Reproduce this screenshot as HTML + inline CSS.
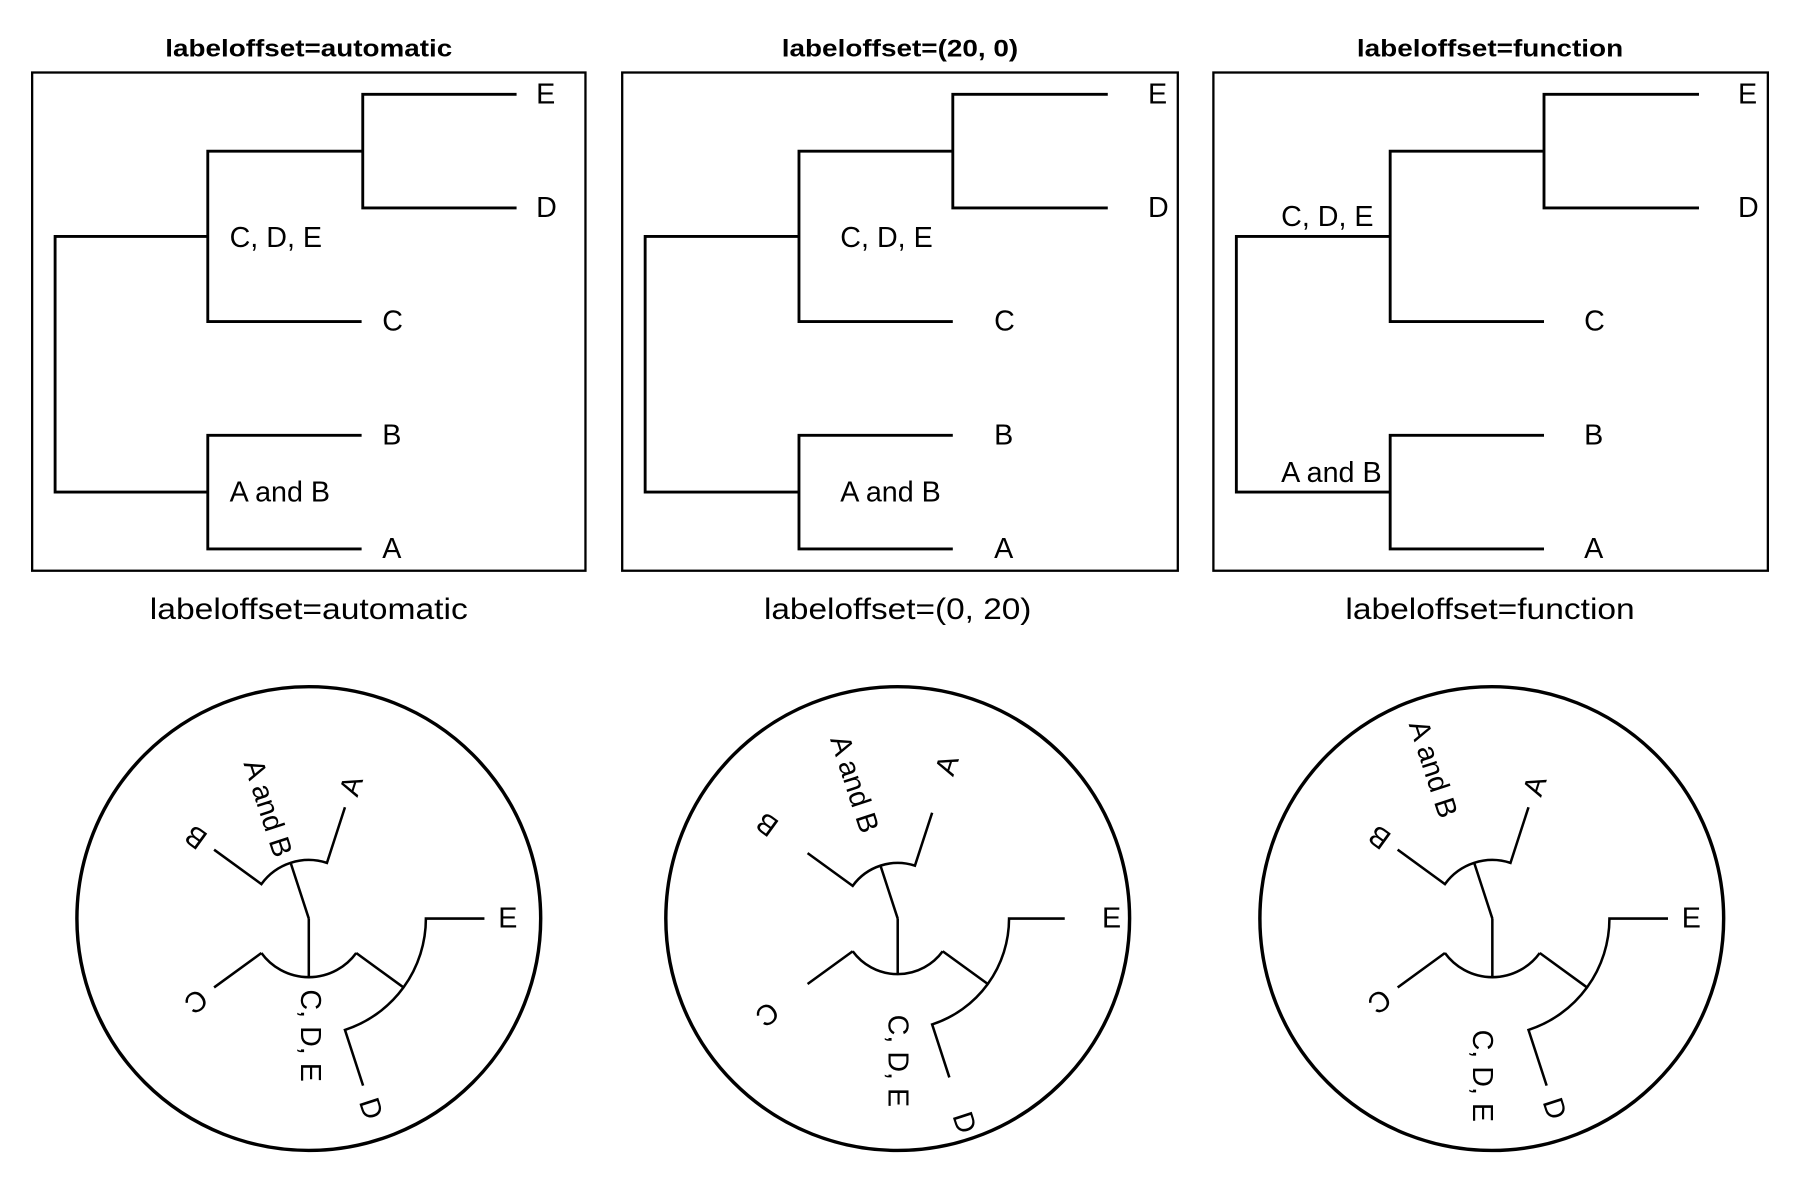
<!DOCTYPE html>
<html><head><meta charset="utf-8"><style>
html,body{margin:0;padding:0;background:#fff;}
svg{display:block;}
text{font-family:"Liberation Sans",sans-serif;fill:#000;}
</style></head><body>
<svg width="1800" height="1200" viewBox="0 0 1568 1045" xmlns="http://www.w3.org/2000/svg">
<rect width="1568" height="1045" fill="#fff"/>
<g font-weight="bold" font-size="21" text-anchor="middle">
<text x="269" y="49" textLength="250" lengthAdjust="spacingAndGlyphs">labeloffset=automatic</text>
<text x="784" y="49" textLength="206" lengthAdjust="spacingAndGlyphs">labeloffset=(20, 0)</text>
<text x="1298" y="49" textLength="232" lengthAdjust="spacingAndGlyphs">labeloffset=function</text>
</g>
<g font-size="26" text-anchor="middle">
<text x="269" y="539" textLength="277" lengthAdjust="spacingAndGlyphs">labeloffset=automatic</text>
<text x="782" y="539" textLength="233" lengthAdjust="spacingAndGlyphs">labeloffset=(0, 20)</text>
<text x="1298" y="539" textLength="252" lengthAdjust="spacingAndGlyphs">labeloffset=function</text>
</g>
<g fill="none" stroke="#000" stroke-width="2">
<rect x="28" y="63" width="482" height="434"/>
<rect x="542" y="63" width="484" height="434"/>
<rect x="1057" y="63" width="483" height="434"/>
</g>
<g fill="none" stroke="#000" stroke-width="2.5">
<path d="M450,82 H316 V181 H450 M316,131.5 H181 V280 H315 M181,205.75 H48 V428.5 H181 M315,379 H181 V478 H315"/>
<path d="M965,82 H830 V181 H965 M830,131.5 H696 V280 H830 M696,205.75 H562 V428.5 H696 M830,379 H696 V478 H830"/>
<path d="M1480,82 H1345 V181 H1480 M1345,131.5 H1211 V280 H1345 M1211,205.75 H1077 V428.5 H1211 M1345,379 H1211 V478 H1345"/>
</g>
<g font-size="25" dominant-baseline="central">
<text x="467" y="82">E</text><text x="467" y="181">D</text><text x="333" y="280">C</text><text x="333" y="379">B</text><text x="333" y="478">A</text>
<text x="200" y="207">C, D, E</text><text x="200" y="429">A and B</text>
<text x="1000" y="82">E</text><text x="1000" y="181">D</text><text x="866" y="280">C</text><text x="866" y="379">B</text><text x="866" y="478">A</text>
<text x="732" y="207">C, D, E</text><text x="732" y="429">A and B</text>
<text x="1514" y="82">E</text><text x="1514" y="181">D</text><text x="1380" y="280">C</text><text x="1380" y="379">B</text><text x="1380" y="478">A</text>
<text x="1116" y="189">C, D, E</text><text x="1116" y="412">A and B</text>
</g>
<g fill="none" stroke="#000" stroke-width="3">
<circle cx="269" cy="800" r="202"/>
<circle cx="782" cy="800" r="202"/>
<circle cx="1299.5" cy="800" r="202"/>
</g>
<g fill="none" stroke="#000" stroke-width="2.2">
<path d="M269,800 L269,851 M269,800 L253.2,751.5
M186.5,740 L227.7,770 A51,51 0 0 1 284.8,751.5 L300.5,703
M186.5,860 L227.7,830 M310.3,830 A51,51 0 0 1 227.7,830 M310.3,830 L351.5,860
M422,800 L371,800 A102,102 0 0 1 300.5,897 L316.3,945.5"/>
<path d="M782,800 L782,848.5 M782,800 L767,753.9
M703.5,743 L742.8,771.5 A48.5,48.5 0 0 1 797,753.9 L812,707.8
M703.5,857 L742.8,828.5 M821.2,828.5 A48.5,48.5 0 0 1 742.8,828.5 M821.2,828.5 L860.5,857
M927.5,800 L879,800 A97,97 0 0 1 812,892.2 L827,938.4"/>
<path d="M1300,800 L1300,851 M1300,800 L1284.2,751.5
M1217.5,740 L1258.7,770 A51,51 0 0 1 1315.8,751.5 L1331.5,703
M1217.5,860 L1258.7,830 M1341.3,830 A51,51 0 0 1 1258.7,830 M1341.3,830 L1382.5,860
M1453,800 L1402,800 A102,102 0 0 1 1331.5,897 L1347.3,945.5"/>
</g>
<g font-size="25" dominant-baseline="central">
<text x="434" y="800">E</text>
<text x="320" y="957" transform="rotate(72 320 957)">D</text>
<text x="177.6" y="866.4" transform="rotate(144 177.6 866.4)">C</text>
<text x="177.6" y="733.6" transform="rotate(216 177.6 733.6)">B</text>
<text x="303.9" y="692.5" transform="rotate(288 303.9 692.5)">A</text>
<text x="233" y="704" text-anchor="middle" transform="rotate(72 233 704)">A and B</text>
<text x="270" y="902" text-anchor="middle" transform="rotate(90 270 902)">C, D, E</text>

<text x="960" y="800">E</text>
<text x="837" y="969.3" transform="rotate(72 837 969.3)">D</text>
<text x="675.2" y="877.6" transform="rotate(144 675.2 877.6)">C</text>
<text x="675.2" y="722.4" transform="rotate(216 675.2 722.4)">B</text>
<text x="822.8" y="674.5" transform="rotate(288 822.8 674.5)">A</text>
<text x="744" y="683" text-anchor="middle" transform="rotate(72 744 683)">A and B</text>
<text x="782" y="924" text-anchor="middle" transform="rotate(90 782 924)">C, D, E</text>

<text x="1465" y="800">E</text>
<text x="1351" y="957" transform="rotate(72 1351 957)">D</text>
<text x="1208.6" y="866.4" transform="rotate(144 1208.6 866.4)">C</text>
<text x="1208.6" y="733.6" transform="rotate(216 1208.6 733.6)">B</text>
<text x="1334.9" y="692.5" transform="rotate(288 1334.9 692.5)">A</text>
<text x="1248" y="670" text-anchor="middle" transform="rotate(72 1248 670)">A and B</text>
<text x="1291" y="937" text-anchor="middle" transform="rotate(90 1291 937)">C, D, E</text>
</g>
</svg>
</body></html>
